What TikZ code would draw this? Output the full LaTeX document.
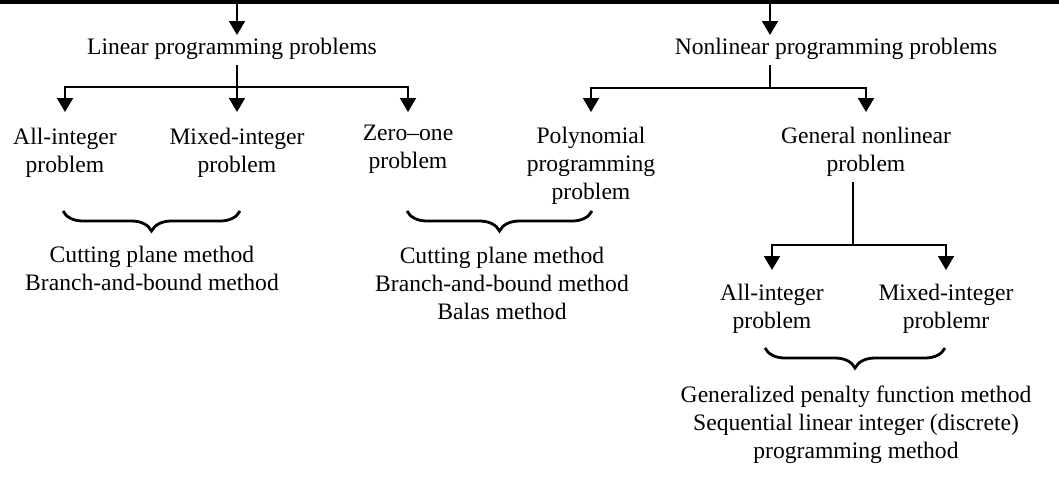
\documentclass[tikz,border=0pt]{standalone}
\usepackage{fontspec}
\setmainfont{Liberation Serif}
\usetikzlibrary{arrows.meta,decorations.pathreplacing}

\begin{document}
\begin{tikzpicture}[x=0.5pt, y=-0.5pt, font=\fontsize{11.8}{14}\selectfont,
  >={Triangle[width=8pt,length=7pt]},
  lbl/.style={align=center, inner sep=2.5pt},
  ln/.style={line width=0.9pt},
  brc/.style={decorate, decoration={brace, mirror, amplitude=10pt}, line width=1.4pt}]

\useasboundingbox (0,0) rectangle (1059,488);

% --- rule across the top ---
\draw[line width=2.4pt] (0,2) -- (1059,2);

% --- levels and junctions ---
\coordinate (topL) at (237,4);
\coordinate (topN) at (770,4);
\coordinate (jl) at (237,87);
\coordinate (jn) at (770,88);
\coordinate (jg) at (853,245);
\coordinate (tip0) at (0,35);
\coordinate (tip1) at (0,112);
\coordinate (tip2) at (0,270);

% --- problem classes ---
\node[lbl] (lpp)  at (232,49) {Linear programming problems};
\node[lbl] (nlpp) at (836,49) {Nonlinear programming problems};

\node[lbl] (allint)  at (65,153)  {All-integer\\problem};
\node[lbl] (mixint)  at (237,153) {Mixed-integer\\problem};
\node[lbl] (zeroone) at (408,149) {Zero--one\\problem};
\node[lbl] (poly)    at (591,166) {Polynomial\\programming\\problem};
\node[lbl] (gennl)   at (866,152) {General nonlinear\\problem};

\node[lbl] (allint2) at (772,309) {All-integer\\problem};
\node[lbl] (mixint2) at (946,309) {Mixed-integer\\problemr};

% --- methods ---
\node[lbl] (meth1) at (152,268) {Cutting plane method\\Branch-and-bound method};
\node[lbl] (meth2) at (502,283) {Cutting plane method\\Branch-and-bound method\\Balas method};
\node[lbl] (meth3) at (856,425) {Generalized penalty function method\\Sequential linear integer (discrete)\\programming method};

% --- connectors ---
\draw[ln,->] (topL) -- (topL |- tip0);
\draw[ln,->] (topN) -- (topN |- tip0);

\draw[ln] (jl |- lpp.south) -- (jl);
\draw[ln,->] (jl) -| (allint |- tip1);
\draw[ln,->] (jl) -- (jl |- tip1);
\draw[ln,->] (jl) -| (zeroone |- tip1);

\draw[ln] (jn |- nlpp.south) -- (jn);
\draw[ln,->] (jn) -| (poly |- tip1);
\draw[ln,->] (jn) -| (gennl |- tip1);

\draw[ln] (jg |- gennl.south) -- (jg);
\draw[ln,->] (jg) -| (allint2 |- tip2);
\draw[ln,->] (jg) -| (mixint2 |- tip2);

% --- braces ---
\coordinate (b1a) at (63,211);  \coordinate (b1b) at (240,211);
\coordinate (b2a) at (407,211); \coordinate (b2b) at (592,211);
\coordinate (b3a) at (765,348); \coordinate (b3b) at (945,348);
\draw[brc] (b1a) -- (b1b);
\draw[brc] (b2a) -- (b2b);
\draw[brc] (b3a) -- (b3b);
\end{tikzpicture}
\end{document}
